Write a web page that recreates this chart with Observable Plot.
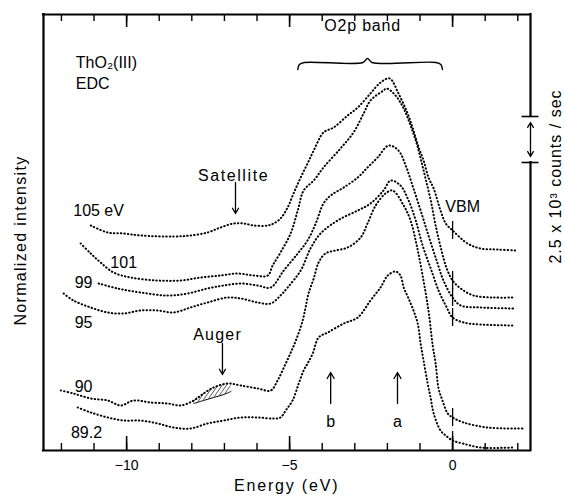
<!DOCTYPE html>
<html>
<head>
<meta charset="utf-8">
<title>ThO2(111) EDC</title>
<script src="https://cdn.jsdelivr.net/npm/d3@7"></script>
<script src="https://cdn.jsdelivr.net/npm/@observablehq/plot@0.6"></script>
<style>
  html, body { margin: 0; padding: 0; background: #fff; }
  #chart svg { display: block; }
</style>
</head>
<body>
<div id="chart"></div>
<script>
// Axis extents: binding energy relative to the VBM (eV) and normalized intensity (arb. units)
const energyDomain = [-12.55, 2.39];
const intensityDomain = [0, 436];
const minorTicks = [-12, -11, -10, -9, -8, -7, -6, -5, -4, -3, -2, -1, 0, 1, 2];
const majorTicks = [-10, -5, 0];

// Photon-energy labels of the EDC series
const curveNames = ["105", "101", "99", "95", "90", "89.2"];
const curveLabels = ["105 eV", "101", "99", "95", "90", "89.2"];
const labelEnergy = [-10.86, -10.09, -11.32, -11.32, -11.32, -11.23];
const labelIntensity = [240, 188, 168, 128, 64, 18];

// hv = 105 eV
const energy105 = [-11.10,-10.58,-10.09,-9.57,-8.56,-8.04,-7.52,-7.12,-6.72,-6.41,-6.10,-5.67,-5.49,-5.28,-5.06,-4.88,-4.66,-4.45,-4.26,-3.96,-3.65,-3.22,-2.91,-2.52,-2.21,-1.93,-1.66,-1.38,-1.20,-1.04,-0.89,-0.74,-0.58,-0.37,-0.21,0,0.46,0.86,1.38,1.93];
const intensity105 = [225,218,217,215,214,215,218,223,227,227,225,225,227,232,243,257,273,287,300,318,323,335,343,357,368,372,357,337,320,303,290,273,262,240,227,220,207,202,201,200];

// hv = 101 eV
const energy101 = [-11.41,-11.10,-10.80,-10.40,-9.88,-9.05,-8.34,-7.73,-7.12,-6.60,-6.10,-5.67,-5.52,-5.28,-4.97,-4.75,-4.57,-4.26,-3.96,-3.44,-3.04,-2.73,-2.52,-2.12,-2.02,-1.75,-1.50,-1.29,-1.13,-0.98,-0.83,-0.67,-0.52,-0.34,-0.18,0,0.25,0.64,1.26,1.87];
const intensity101 = [207,197,188,178,173,170,170,173,175,177,175,175,185,198,217,240,260,270,283,302,318,337,350,360,362,355,342,325,310,292,272,250,225,200,182,170,162,155,153,153];

// hv = 99 eV
const energy99 = [-10.86,-10.28,-9.57,-8.74,-8.13,-7.52,-7.02,-6.50,-5.98,-5.58,-5.18,-4.75,-4.45,-4.20,-3.96,-3.74,-3.34,-2.91,-2.61,-2.30,-1.96,-1.66,-1.44,-1.23,-0.98,-0.74,-0.49,-0.28,0,0.25,0.86,1.87];
const intensity99 = [167,162,158,155,157,162,165,167,165,163,180,197,210,227,247,255,263,273,283,293,305,300,285,265,240,215,190,170,153,145,143,142];

// hv = 95 eV
const energy95 = [-11.93,-11.63,-11.10,-10.58,-10.09,-9.57,-9.05,-8.56,-8.04,-7.52,-6.90,-6.50,-5.98,-5.58,-5.28,-5.06,-4.66,-4.36,-4.05,-3.53,-2.91,-2.52,-2.12,-1.90,-1.60,-1.35,-1.13,-0.92,-0.67,-0.43,-0.21,0,0.34,0.86,1.87];
const intensity95 = [157,150,143,138,137,140,140,138,143,148,153,152,148,147,155,163,180,202,217,230,240,247,260,270,265,250,230,205,182,160,145,133,128,126,125];

// hv = 90 eV
const energy90 = [-12.02,-11.63,-11.10,-10.58,-10.18,-9.79,-9.26,-8.74,-8.34,-7.94,-7.64,-7.33,-6.90,-6.50,-5.98,-5.58,-5.37,-5.12,-4.91,-4.75,-4.60,-4.51,-4.42,-4.26,-4.11,-3.90,-3.59,-3.22,-2.82,-2.61,-2.36,-2.06,-1.84,-1.50,-1.29,-1.10,-0.92,-0.74,-0.61,-0.52,-0.43,-0.31,-0.15,0,0.34,1.07,2.15];
const intensity90 = [60,57,52,50,45,50,48,47,45,50,57,63,67,65,62,60,70,87,102,115,130,143,157,172,188,197,200,203,213,227,245,257,260,245,230,205,175,140,105,87,62,50,37,33,28,23,22];

// hv = 89.2 eV
const energy892 = [-11.50,-11.10,-10.58,-10.09,-9.57,-9.05,-8.56,-8.04,-7.52,-7.02,-6.50,-5.98,-5.49,-5.28,-5.12,-4.91,-4.72,-4.57,-4.45,-4.29,-4.11,-3.83,-3.34,-2.91,-2.52,-2.21,-1.99,-1.75,-1.60,-1.50,-1.35,-1.20,-1.07,-0.98,-0.89,-0.77,-0.67,-0.58,-0.37,-0.21,0,0.31,0.86,1.87];
const intensity892 = [43,38,33,30,30,27,23,22,27,30,33,33,32,33,40,50,67,80,87,97,113,118,127,133,150,163,175,179,175,163,152,140,127,107,90,68,52,37,20,15,10,7,3,3];

// Auger feature on the 90 eV curve (hatched between the spectrum and its background)
const augerEnergy = [-7.94, -7.64, -7.33, -7.02, -6.80];
const augerTop = [50, 57, 63, 66, 67];
const augerBase = [47, 50, 53, 56, 59];

// Scale bar on the right edge: 2.5 x 10^3 counts/sec
const scaleBarBottom = 288;
const scaleBarTop = 334;

// Feature markers
const vbmEnergy = 0;
const featureNames = ["b", "a"];
const featureEnergy = [-3.74, -1.69];

const energies = [energy105, energy101, energy99, energy95, energy90, energy892];
const intensities = [intensity105, intensity101, intensity99, intensity95, intensity90, intensity892];

const spectra = curveNames.flatMap((name, k) =>
  energies[k].map((e, i) => ({series: name, energy: e, intensity: intensities[k][i]})));

const vbmMarks = curveNames.map((name, k) =>
  ({series: name, intensity: intensities[k][energies[k].indexOf(vbmEnergy)]}));

const curveLabelRows = curveLabels.map((t, i) => ({text: t, energy: labelEnergy[i], intensity: labelIntensity[i]}));
const augerRows = augerEnergy.map((e, i) => ({energy: e, base: augerBase[i], top: augerTop[i]}));
const featureRows = featureNames.map((n, i) => ({name: n, energy: featureEnergy[i]}));

const [xMin, xMax] = energyDomain;
const [yMin, yMax] = intensityDomain;
const scaleMid = (scaleBarBottom + scaleBarTop) / 2;

const font = "'Liberation Sans', Arial, sans-serif";

const chart = Plot.plot({
  width: 565,
  height: 500,
  marginLeft: 43,
  marginRight: 35,
  marginTop: 14,
  marginBottom: 50,
  style: {fontFamily: font, color: "#000", background: "#fff", overflow: "visible"},
  x: {domain: energyDomain},
  y: {domain: intensityDomain, axis: null},
  marks: [
    // frame: bottom, top, left, and the right edge broken by the scale bar
    Plot.ruleY([yMin, yMax], {stroke: "#000", strokeWidth: 2.2, strokeLinecap: "square"}),
    Plot.ruleX([xMin], {stroke: "#000", strokeWidth: 2.2, strokeLinecap: "square"}),
    Plot.ruleX([{y1: yMin, y2: scaleBarBottom}, {y1: scaleBarTop, y2: yMax}],
      {x: xMax, y1: "y1", y2: "y2", stroke: "#000", strokeWidth: 2.2, strokeLinecap: "square"}),
    Plot.ruleY([scaleBarBottom, scaleBarTop], {x1: xMax - 0.26, x2: xMax + 0.26, stroke: "#000", strokeWidth: 1.6}),
    Plot.arrow([{y: scaleBarBottom + 6}, {y: scaleBarTop - 6}],
      {x1: xMax, x2: xMax, y1: scaleMid, y2: "y", headLength: 7, strokeWidth: 1.3, stroke: "#000"}),

    // inward ticks, bottom and top
    Plot.ruleX(minorTicks, {x: d => d, y1: yMin, y2: yMin + 7, strokeWidth: 1.4}),
    Plot.ruleX(majorTicks, {x: d => d, y1: yMin, y2: yMin + 14, strokeWidth: 1.6}),
    Plot.ruleX(minorTicks, {x: d => d, y1: yMax, y2: yMax - 7, strokeWidth: 1.4}),
    Plot.ruleX(majorTicks, {x: d => d, y1: yMax, y2: yMax - 13, strokeWidth: 1.6}),
    Plot.axisX({ticks: majorTicks, tickSize: 0, tickPadding: 10, fontSize: 14, label: null}),

    // Auger feature hatching
    Plot.areaY(augerRows, {x: "energy", y1: "base", y2: "top", fill: "url(#auger-hatch)", curve: "catmull-rom"}),
    Plot.line(augerRows, {x: "energy", y: "base", stroke: "#000", strokeWidth: 1, curve: "catmull-rom"}),

    // EDC spectra
    Plot.line(spectra, {
      x: "energy", y: "intensity", z: "series",
      curve: "catmull-rom", stroke: "#000", strokeWidth: 2,
      strokeDasharray: "0.5 3", strokeLinecap: "round"
    }),

    // VBM markers
    Plot.ruleX(vbmMarks, {x: vbmEnergy, y1: d => d.intensity - 9, y2: d => d.intensity + 9, stroke: "#000", strokeWidth: 1.3}),
    Plot.text(["VBM"], {x: vbmEnergy + 0.31, y: 244, text: d => d, fontSize: 16, textAnchor: "middle"}),

    // O2p band bracket
    Plot.line([
      {e: -4.75, v: 381}, {e: -4.70, v: 386}, {e: -4.55, v: 388}, {e: -2.75, v: 388},
      {e: -2.61, v: 392}, {e: -2.47, v: 388}, {e: -0.51, v: 388}, {e: -0.36, v: 386}, {e: -0.31, v: 381}
    ], {x: "e", y: "v", curve: "catmull-rom", stroke: "#000", strokeWidth: 1.4}),
    Plot.text(["O2p band"], {x: -2.76, y: 425, text: d => d, fontSize: 16}),

    // sample and method
    Plot.text(["ThO\u2082(III)"], {x: -11.56, y: 388, text: d => d, fontSize: 16, textAnchor: "start"}),
    Plot.text(["EDC"], {x: -11.56, y: 367, text: d => d, fontSize: 16, textAnchor: "start"}),

    // series labels
    Plot.text(curveLabelRows, {x: "energy", y: "intensity", text: "text", fontSize: 16}),

    // satellite and Auger annotations
    Plot.text(["Satellite"], {x: -6.72, y: 275, text: d => d, fontSize: 16}),
    Plot.arrow([0], {x1: -6.66, x2: -6.66, y1: 268, y2: 237, headLength: 7, strokeWidth: 1.3, stroke: "#000"}),
    Plot.text(["Auger"], {x: -7.21, y: 116, text: d => d, fontSize: 16}),
    Plot.arrow([0], {x1: -7.06, x2: -7.06, y1: 107, y2: 76, headLength: 7, strokeWidth: 1.3, stroke: "#000"}),

    // features a and b
    Plot.arrow(featureRows, {x1: "energy", x2: "energy", y1: 47, y2: 78, headLength: 8, strokeWidth: 1.3, stroke: "#000"}),
    Plot.text(featureRows, {x: "energy", y: 29, text: "name", fontSize: 16}),

    // axis titles
    Plot.text(["Energy (eV)"], {x: -5.09, frameAnchor: "bottom", dy: 40, text: d => d, fontSize: 16}),
    Plot.text(["Normalized intensity"], {frameAnchor: "left", dx: -23, y: 210, rotate: -90, textAnchor: "middle", text: d => d, fontSize: 16}),
    Plot.text(["2.5 x 10\u00B3 counts / sec"], {frameAnchor: "right", dx: 25, y: 274, rotate: -90, textAnchor: "middle", text: d => d, fontSize: 16})
  ]
});

// wider tracking on the word labels
const tracking = new Map([
  ["Satellite", "1.6px"], ["Auger", "1.2px"], ["Energy (eV)", "1.8px"],
  ["Normalized intensity", "1.3px"], ["2.5 x 10\u00B3 counts / sec", "1px"], ["O2p band", "0.8px"]
]);
d3.select(chart).selectAll("text")
  .filter(function() { return tracking.has(this.textContent); })
  .style("letter-spacing", function() { return tracking.get(this.textContent); });

// diagonal hatch used by the Auger area
const defs = d3.select(chart).insert("defs", ":first-child");
defs.append("pattern")
  .attr("id", "auger-hatch")
  .attr("patternUnits", "userSpaceOnUse")
  .attr("width", 3.5)
  .attr("height", 3.5)
  .attr("patternTransform", "rotate(35)")
  .append("line")
  .attr("x1", 0).attr("y1", 0).attr("x2", 0).attr("y2", 3.5)
  .attr("stroke", "#000").attr("stroke-width", 1.1);

document.getElementById("chart").append(chart);
</script>
</body>
</html>
